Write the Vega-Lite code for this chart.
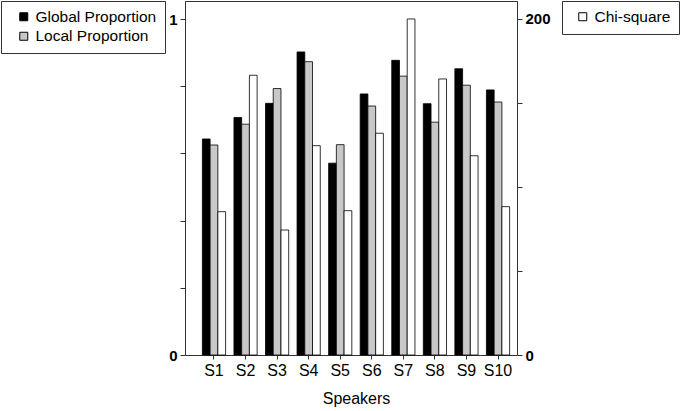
{
  "$schema": "https://vega.github.io/schema/vega-lite/v6.json",
  "autosize": {"type": "none"},
  "padding": {"left": 185, "top": 1, "right": 163, "bottom": 56},
  "width": 332,
  "height": 354,
  "background": "white",
  "config": {
    "font": "Liberation Sans",
    "view": {"stroke": "#333", "strokeWidth": 1},
    "axis": {
      "grid": false,
      "domainColor": "#333",
      "tickColor": "#333",
      "labelColor": "black",
      "titleColor": "black",
      "labelFont": "Liberation Sans",
      "titleFont": "Liberation Sans"
    },
    "legend": {
      "labelFont": "Liberation Sans",
      "labelFontSize": 15.5,
      "labelColor": "black",
      "symbolType": "square",
      "symbolSize": 64,
      "symbolStrokeColor": "black",
      "symbolStrokeWidth": 1,
      "padding": 8,
      "rowPadding": 2.5,
      "strokeColor": "#333",
      "fillColor": "white"
    }
  },
  "data": {
    "values": [
      {"speaker": "S1", "measure": "Global Proportion", "value": 0.643},
      {"speaker": "S1", "measure": "Local Proportion", "value": 0.625},
      {"speaker": "S1", "measure": "Chi-square", "value": 85.3},
      {"speaker": "S2", "measure": "Global Proportion", "value": 0.707},
      {"speaker": "S2", "measure": "Local Proportion", "value": 0.687},
      {"speaker": "S2", "measure": "Chi-square", "value": 166.5},
      {"speaker": "S3", "measure": "Global Proportion", "value": 0.749},
      {"speaker": "S3", "measure": "Local Proportion", "value": 0.793},
      {"speaker": "S3", "measure": "Chi-square", "value": 74.4},
      {"speaker": "S4", "measure": "Global Proportion", "value": 0.902},
      {"speaker": "S4", "measure": "Local Proportion", "value": 0.873},
      {"speaker": "S4", "measure": "Chi-square", "value": 124.6},
      {"speaker": "S5", "measure": "Global Proportion", "value": 0.571},
      {"speaker": "S5", "measure": "Local Proportion", "value": 0.626},
      {"speaker": "S5", "measure": "Chi-square", "value": 85.9},
      {"speaker": "S6", "measure": "Global Proportion", "value": 0.777},
      {"speaker": "S6", "measure": "Local Proportion", "value": 0.741},
      {"speaker": "S6", "measure": "Chi-square", "value": 132},
      {"speaker": "S7", "measure": "Global Proportion", "value": 0.877},
      {"speaker": "S7", "measure": "Local Proportion", "value": 0.83},
      {"speaker": "S7", "measure": "Chi-square", "value": 200},
      {"speaker": "S8", "measure": "Global Proportion", "value": 0.748},
      {"speaker": "S8", "measure": "Local Proportion", "value": 0.693},
      {"speaker": "S8", "measure": "Chi-square", "value": 164.3},
      {"speaker": "S9", "measure": "Global Proportion", "value": 0.852},
      {"speaker": "S9", "measure": "Local Proportion", "value": 0.803},
      {"speaker": "S9", "measure": "Chi-square", "value": 118.6},
      {"speaker": "S10", "measure": "Global Proportion", "value": 0.789},
      {"speaker": "S10", "measure": "Local Proportion", "value": 0.753},
      {"speaker": "S10", "measure": "Chi-square", "value": 88.3}
    ]
  },
  "encoding": {
    "x": {
      "field": "speaker",
      "type": "nominal",
      "sort": null,
      "scale": {"range": [13.2, 328.8], "paddingInner": 0.265, "paddingOuter": 0.1325},
      "axis": {
        "title": "Speakers",
        "labelAngle": 0,
        "labelFontSize": 16,
        "titleFontSize": 16,
        "titleFontWeight": "normal",
        "domain": false,
        "tickSize": 4,
        "labelPadding": 3,
        "titlePadding": 12
      }
    },
    "xOffset": {
      "field": "measure",
      "type": "nominal",
      "scale": {"domain": ["Global Proportion", "Local Proportion", "Chi-square"], "paddingInner": 0, "paddingOuter": 0}
    }
  },
  "layer": [
    {
      "transform": [{"filter": "datum.measure != 'Chi-square'"}],
      "mark": {"type": "bar", "stroke": "black", "strokeWidth": 0.8},
      "encoding": {
        "y": {
          "field": "value",
          "type": "quantitative",
          "scale": {"domain": [0, 1.0536], "nice": false},
          "axis": {
            "orient": "left",
            "title": null,
            "values": [0, 0.2, 0.4, 0.6, 0.8, 1],
            "labelExpr": "datum.value == 0 ? '0' : datum.value == 1 ? '1' : ''",
            "labelFontSize": 15,
            "labelFontWeight": "bold",
            "tickSize": 5,
            "labelPadding": 3
          }
        },
        "fill": {
          "field": "measure",
          "type": "nominal",
          "scale": {"domain": ["Global Proportion", "Local Proportion"], "range": ["black", "#c8c8c8"]},
          "legend": {"title": null, "orient": "none", "legendX": -184, "legendY": 0, "symbolOffset": 7}
        }
      }
    },
    {
      "transform": [{"filter": "datum.measure == 'Chi-square'"}],
      "mark": {"type": "bar", "stroke": "black", "strokeWidth": 0.8},
      "encoding": {
        "y": {
          "field": "value",
          "type": "quantitative",
          "scale": {"domain": [0, 210.7], "nice": false},
          "axis": {
            "orient": "right",
            "title": null,
            "values": [0, 50, 100, 150, 200],
            "labelExpr": "datum.value == 0 || datum.value == 200 ? datum.label : ''",
            "labelFontSize": 15,
            "labelFontWeight": "bold",
            "tickSize": 5,
            "labelPadding": 3
          }
        },
        "fill": {
          "field": "measure",
          "type": "nominal",
          "scale": {"domain": ["Chi-square"], "range": ["white"]},
          "legend": {"title": null, "orient": "none", "legendX": 377, "legendY": 0, "symbolOffset": 5}
        }
      }
    }
  ],
  "resolve": {
    "scale": {"y": "independent", "fill": "independent"},
    "legend": {"fill": "independent"}
  }
}
